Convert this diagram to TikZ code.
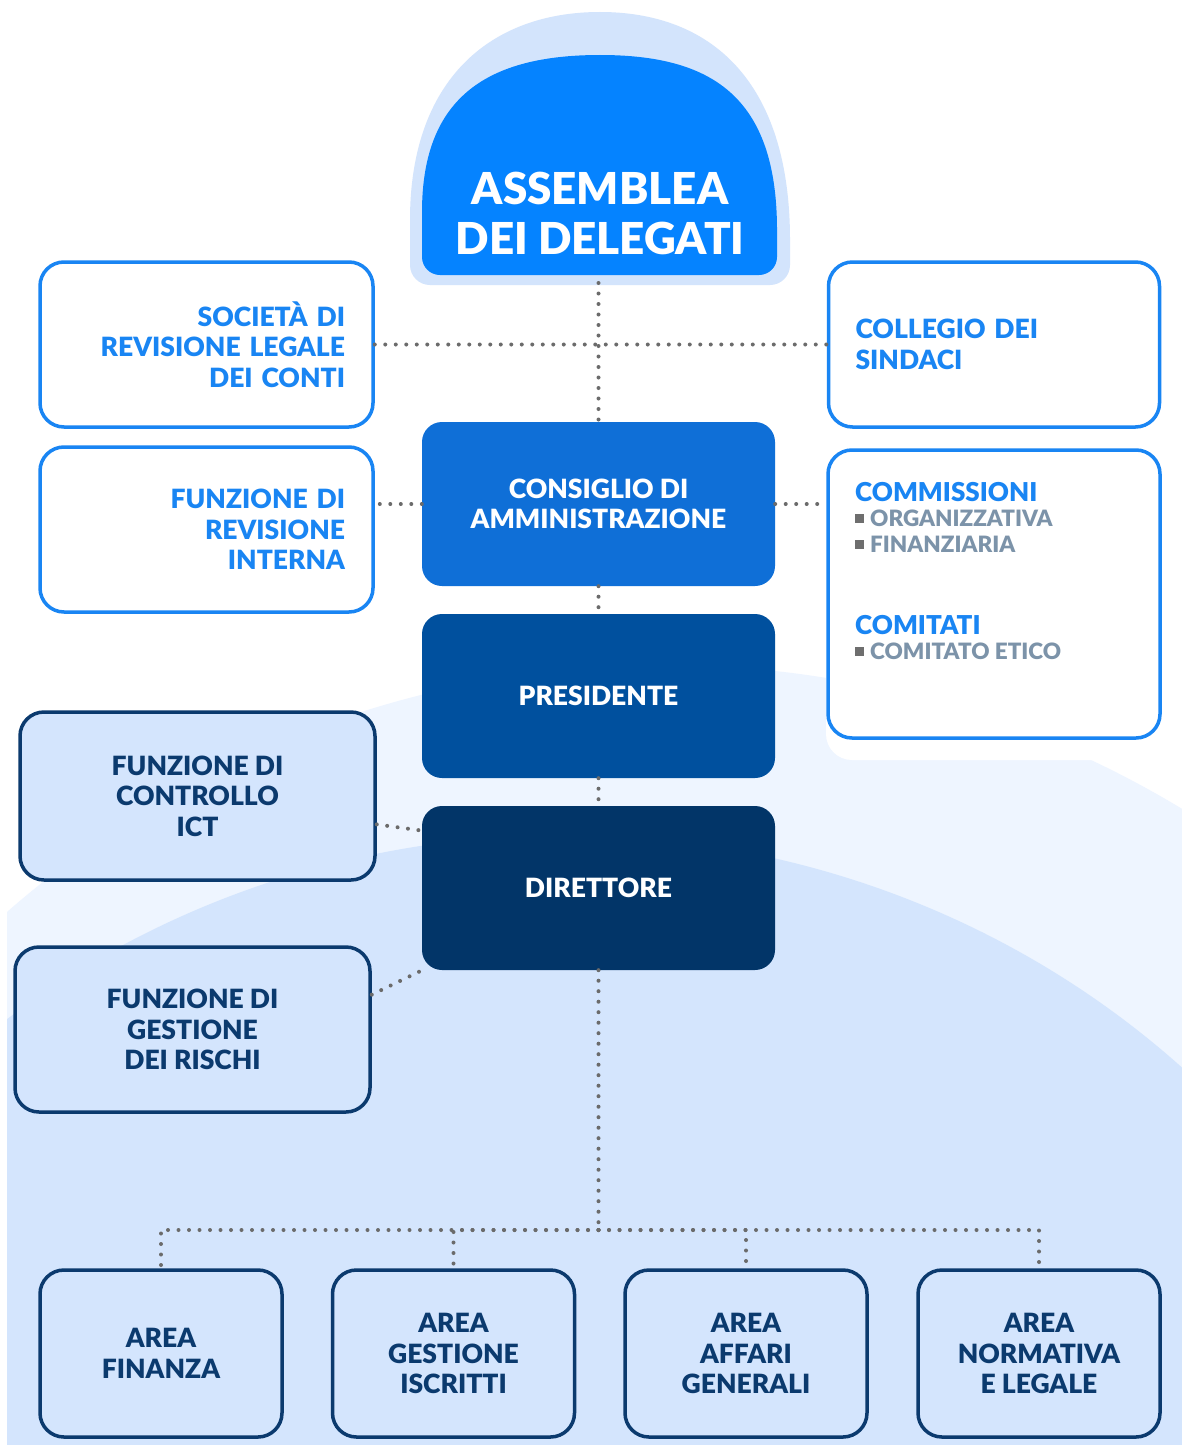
\documentclass[tikz,border=0pt]{standalone}
\usepackage{fontspec}
\setmainfont{Lato}[BoldFont={Lato Black}]
\usetikzlibrary{calc}
\definecolor{bblue}{HTML}{1985F3}
\definecolor{domeblue}{HTML}{0583FF}
\definecolor{cblue}{HTML}{0F6FD7}
\definecolor{pblue}{HTML}{00509E}
\definecolor{dblue}{HTML}{023568}
\definecolor{navy}{HTML}{0B3A6E}
\definecolor{halo}{HTML}{D3E4FC}
\definecolor{palebg}{HTML}{EEF5FF}
\definecolor{lightbg}{HTML}{D4E5FD}
\definecolor{dotgray}{HTML}{6B6B6B}
\definecolor{subgray}{HTML}{7C93A9}
\definecolor{bulgray}{HTML}{6E6E6E}
\newcommand\bulletsq{\textcolor{bulgray}{\rule[3pt]{9pt}{9pt}}\hspace{6pt}}
\begin{document}
\begin{tikzpicture}[x=1pt,y=-1pt,
  boxfont/.style={font=\fontsize{26.5}{30.5}\selectfont\bfseries},
  wbox/.style={draw=bblue, line width=3.5pt, fill=white, rounded corners=24pt,
    text=bblue, boxfont, minimum height=165pt, text width=277pt, inner xsep=28pt},
  darkbox/.style={rounded corners=20pt, minimum width=353pt, minimum height=164pt,
    text=white, boxfont, align=center},
  lbox/.style={draw=navy, line width=3.5pt, fill=lightbg, rounded corners=24pt,
    text=navy, boxfont, align=center},
  areabox/.style={lbox, minimum width=242pt, minimum height=167pt},
  dotline/.style={draw=dotgray, line width=4pt, line cap=round, dash pattern=on 0pt off 10.5pt},
  titlefont/.style={font=\fontsize{26}{30}\selectfont\bfseries, text=bblue, inner sep=0pt},
  subfont/.style={font=\fontsize{22.5}{26}\selectfont\bfseries, text=subgray, inner sep=0pt}
]
\useasboundingbox (0,0) rectangle (1182,1445);
\fill[white] (0,0) rectangle (1182,1445);
% background arcs
\begin{scope}
  \clip (7,0) rectangle (1182,1445);
  \fill[palebg] (665,1665) circle (1000pt);
  \fill[lightbg] (565,1690) ellipse [x radius=900pt, y radius=855pt];
\end{scope}
% white halo behind commissioni box
\fill[white, rounded corners=26pt] (826,448) rectangle (1166,760);

% Assemblea dome
\fill[halo] (410,240) .. controls (410,80) and (490,12) .. (600,12)
  .. controls (710,12) and (790,80) .. (790,240)
  [rounded corners=20pt] -- (790,285) -- (410,285) -- cycle;
\fill[domeblue] (422,230) .. controls (422,95) and (490,55) .. (600,55)
  .. controls (710,55) and (777,95) .. (777,230)
  [rounded corners=18pt] -- (777,275) -- (422,275) -- cycle;
\node[text=white, font=\fontsize{44}{50}\selectfont\bfseries, align=center] (ass) at (600,213)
  {ASSEMBLEA\\DEI DELEGATI};
\coordinate (assb) at (598.5,283);

% side boxes
\node[wbox, align=right] (soc) at (206.5,344.5) {SOCIETÀ DI\\REVISIONE LEGALE\\DEI CONTI};
\node[wbox, align=left, inner xsep=27pt] (col) at (994,344.5) {COLLEGIO DEI\\SINDACI};
\node[wbox, align=right] (rev) at (206.5,529.5) {FUNZIONE DI\\REVISIONE\\INTERNA};
\node[draw=bblue, line width=3.5pt, fill=white, rounded corners=24pt,
  minimum width=332pt, minimum height=288pt] (com) at (994,594) {};
\node[titlefont, anchor=west] (comt) at (855,492) {COMMISSIONI};
\node[subfont, anchor=west] (org) at (855,518) {\bulletsq ORGANIZZATIVA};
\node[subfont, anchor=west] (fin) at (855,544) {\bulletsq FINANZIARIA};
\node[titlefont, anchor=west] (comitt) at (855,625) {COMITATI};
\node[subfont, anchor=west] (etico) at (855,651) {\bulletsq COMITATO ETICO};

% central column
\node[darkbox, fill=cblue] (cda) at (598.5,504) {CONSIGLIO DI\\AMMINISTRAZIONE};
\node[darkbox, fill=pblue] (pres) at (598.5,696) {PRESIDENTE};
\node[darkbox, fill=dblue] (dir) at (598.5,888) {DIRETTORE};

% left light boxes
\node[lbox, minimum width=355pt, minimum height=168pt] (ict) at (197.5,796)
  {FUNZIONE DI\\CONTROLLO\\ICT};
\node[lbox, minimum width=355pt, minimum height=165pt] (risk) at (192.5,1029.5)
  {FUNZIONE DI\\GESTIONE\\DEI RISCHI};

% areas
\node[areabox] (a1) at (161,1353.5) {AREA\\FINANZA};
\node[areabox] (a2) at (453.5,1353.5) {AREA\\GESTIONE\\ISCRITTI};
\node[areabox] (a3) at (746,1353.5) {AREA\\AFFARI\\GENERALI};
\node[areabox] (a4) at (1039,1353.5) {AREA\\NORMATIVA\\E LEGALE};

% connectors
\draw[dotline] (assb) -- (cda.north);
\draw[dotline] (soc.east) -- (col.west);
\draw[dotline] (cda.west) -- (cda.west -| rev.east);
\draw[dotline] (cda.east) -- (cda.east -| com.west);
\draw[dotline] (cda.south) -- (pres.north);
\draw[dotline] (pres.south) -- (dir.north);
\draw[dotline] (ict.-9.3) -- (dir.162.7);
\draw[dotline] (risk.11) -- (dir.205.7);
\coordinate (hub) at (598.5,1230);
\draw[dotline] (dir.south) -- (hub);
\draw[dotline] (hub) -| (a1.north);
\draw[dotline] (hub) -| (a2.north);
\draw[dotline] (hub) -| (a3.north);
\draw[dotline] (hub) -| (a4.north);
\end{tikzpicture}
\end{document}
